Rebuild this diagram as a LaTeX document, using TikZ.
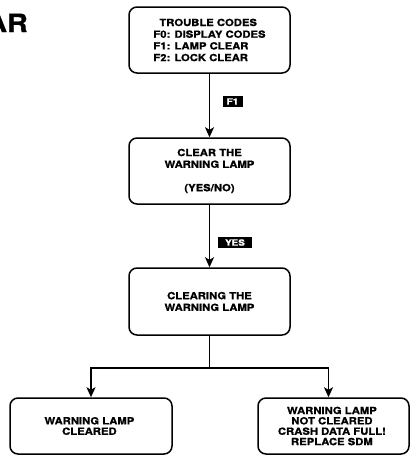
\documentclass[tikz,border=0pt]{standalone}
\usepackage{fontspec}
\setmainfont{TeX Gyre Heros}[FakeStretch=1.15, BoldFeatures={FakeBold=1.2}]
\usepackage{tikz}
\usetikzlibrary{positioning}
\usetikzlibrary{arrows.meta}

\tikzset{
  screen/.style={draw, line width=1.5, rounded corners=8pt, align=center,
    inner sep=0pt, font=\bfseries\fontsize{9.8}{11.7}\selectfont},
  keybox/.style={fill=black, text=white, inner sep=0pt, minimum height=11pt,
    font=\bfseries\fontsize{8.6}{9}\selectfont},
  flow/.style={line width=1.5, -{Stealth[length=10pt,width=9pt,inset=2.5pt]}}
}

\begin{document}
\begin{tikzpicture}[x=1pt, y=-1pt]

\useasboundingbox (0,0) rectangle (412,464);

% cut-off heading
\node[anchor=base east, inner sep=0pt,
  font=\bfseries\fontsize{25}{28}\selectfont]
  (heading) at (28,32) {AR};

% screens
\node[screen, align=left, minimum width=161pt, minimum height=66pt]
  (codes) at (209.5,40) {%
    \hspace*{6pt}TROUBLE CODES\\%
    F0: DISPLAY CODES\\%
    F1: LAMP CLEAR\\%
    F2: LOCK CLEAR%
  };

\node[screen, minimum width=161pt, minimum height=66pt]
  (ask) at (209.5,171) {
    CLEAR THE\\
    WARNING LAMP\\[11.7pt]
    (YES/NO)
  };

\node[screen, minimum width=161pt, minimum height=67pt]
  (clearing) at (209.5,301.5) {
    CLEARING THE\\
    WARNING LAMP
  };

\node[screen, minimum width=162pt, minimum height=56pt]
  (cleared) at (91,426) {
    \raisebox{-5pt}{\shortstack{WARNING LAMP\\CLEARED}}
  };

\node[screen, minimum width=151pt, minimum height=56pt]
  (notcleared) at (333.5,426) {
    \raisebox{-4pt}{\shortstack{WARNING LAMP\\NOT CLEARED\\CRASH DATA FULL!\\REPLACE SDM}}
  };

% keys
\node[keybox, minimum width=20pt] (keyf) at (232.5,101.5) {F1};
\node[keybox, minimum width=34pt] (keyyes) at (235,242.5) {YES};

% connectors
\draw[flow] (codes) to (ask);
\draw[flow] (ask) to (clearing);

\draw[line width=1.5]
  (clearing.south) to ++(0,32) coordinate (split);
\draw[flow]
  (split) -| (cleared.north);
\draw[flow]
  (split) -| ([xshift=-5pt]notcleared.north);

\end{tikzpicture}
\end{document}
